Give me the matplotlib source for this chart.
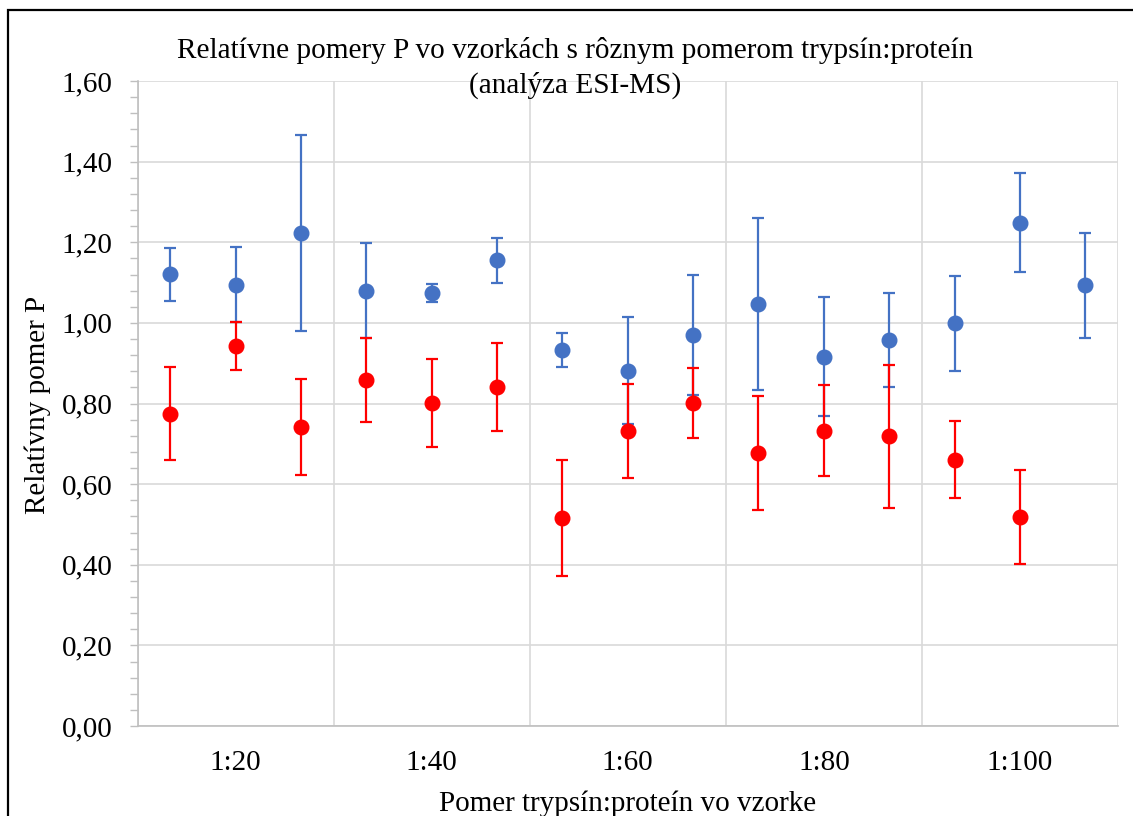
import matplotlib
matplotlib.use("Agg")
import matplotlib.pyplot as plt
import numpy as np
from matplotlib.ticker import FixedLocator, MultipleLocator, FuncFormatter, NullFormatter
from matplotlib.patches import Rectangle

plt.rcParams['font.family'] = ['Liberation Serif', 'DejaVu Serif']

# Trypsin:protein ratios, three samples each
ratios = ["1:20", "1:40", "1:60", "1:80", "1:100"]
samples_per_ratio = 3

# Series 1 (blue) – mean relative ratio and its error
blue_vals = [1.120, 1.094, 1.223, 1.080, 1.075, 1.155, 0.933, 0.881, 0.970,
             1.046, 0.916, 0.957, 0.999, 1.248, 1.093]
blue_err = [0.065, 0.093, 0.242, 0.117, 0.022, 0.056, 0.043, 0.133, 0.148,
            0.213, 0.147, 0.117, 0.118, 0.123, 0.130]

# Series 2 (red) – no value for the last sample
red_vals = [0.775, 0.942, 0.742, 0.858, 0.802, 0.841, 0.516, 0.732, 0.802,
            0.677, 0.733, 0.719, 0.661, 0.518]
red_err = [0.115, 0.060, 0.120, 0.105, 0.109, 0.110, 0.144, 0.117, 0.087,
           0.142, 0.114, 0.177, 0.096, 0.117]

W, H = 1133, 816
fig = plt.figure(figsize=(W / 100, H / 100), dpi=100)
fig.patch.set_facecolor("white")

ax = fig.add_axes([137.5 / W, 1 - 726 / H, (1118 - 137.5) / W, (726 - 81) / H])

n = len(ratios) * samples_per_ratio
xb = np.arange(len(blue_vals))
xr = np.arange(len(red_vals))

ebkw = dict(fmt="o", markersize=10.5, elinewidth=1.6, capsize=4.5, capthick=1.6)
ax.errorbar(xb, blue_vals, yerr=blue_err, color="#4472C4", zorder=3, **ebkw)
ax.errorbar(xr, red_vals, yerr=red_err, color="#FF0000", zorder=4, **ebkw)

ax.set_xlim(-0.5, n - 0.5)
ax.set_ylim(0, 1.6)

# group boundaries as vertical gridlines, group names centred below
bounds = [i * samples_per_ratio - 0.5 for i in range(len(ratios) + 1)]
centers = [i * samples_per_ratio + (samples_per_ratio - 1) / 2 for i in range(len(ratios))]
ax.xaxis.set_major_locator(FixedLocator(bounds))
ax.xaxis.set_major_formatter(NullFormatter())
ax.xaxis.set_minor_locator(FixedLocator(centers))
ax.set_xticklabels(ratios, minor=True)
ax.tick_params(axis="x", which="both", length=0, labelsize=21, pad=17)

ax.yaxis.set_major_locator(MultipleLocator(0.2))
ax.yaxis.set_minor_locator(MultipleLocator(0.04))
ax.yaxis.set_major_formatter(FuncFormatter(lambda v, p: f"{v:.2f}".replace(".", ",")))
ax.tick_params(axis="y", which="both", direction="out", length=6, width=1,
               color="#BFBFBF", labelsize=21, pad=12)

ax.grid(True, which="major", color="#D9D9D9", linewidth=1.2, zorder=0)
ax.set_axisbelow(True)

for s in ["top", "right"]:
    ax.spines[s].set_visible(False)
for s in ["left", "bottom"]:
    ax.spines[s].set_color("#BFBFBF")
    ax.spines[s].set_linewidth(1.2)

# titles and axis names
fig.text(575 / W, 1 - 58 / H, "Relatívne pomery P vo vzorkách s rôznym pomerom trypsín:proteín",
         ha="center", va="baseline", fontsize=21.1)
fig.text(575 / W, 1 - 93 / H, "(analýza ESI-MS)", ha="center", va="baseline", fontsize=21.1)
fig.text(38 / W, 1 - 405 / H, "Relatívny pomer P", rotation=90, ha="center", va="center",
         fontsize=21)
fig.text(628 / W, 1 - 811 / H, "Pomer trypsín:proteín vo vzorke", ha="center", va="baseline",
         fontsize=21)

# chart frame
frame = Rectangle((8 / W, -0.2), 1.3, 1.2 - 10 / H, transform=fig.transFigure,
                  fill=False, edgecolor="black", linewidth=1.6, clip_on=False)
fig.add_artist(frame)

fig.savefig("out.png", dpi=100)
